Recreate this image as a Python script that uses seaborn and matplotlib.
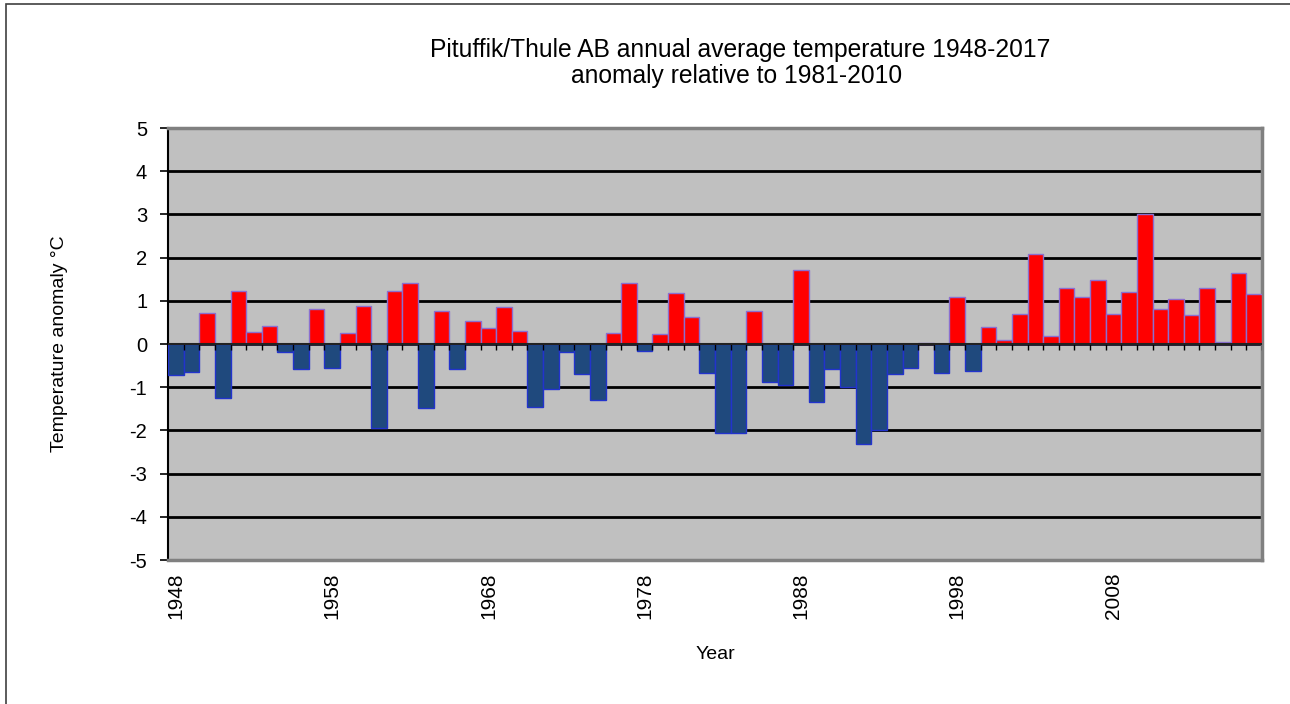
import matplotlib
matplotlib.use("Agg")
import matplotlib.pyplot as plt
import seaborn as sns
import pandas as pd
import numpy as np
from matplotlib.patches import Rectangle

years = list(range(1948, 2018))
anomaly = [
    -0.71, -0.64, 0.72, -1.25, 1.22, 0.28, 0.41, -0.19, -0.59, 0.81,
    -0.55, 0.25, 0.88, -1.95, 1.23, 1.42, -1.47, 0.76, -0.59, 0.53,
    0.36, 0.85, 0.30, -1.45, -1.05, -0.19, -0.69, -1.30, 0.26, 1.42,
    -0.17, 0.23, 1.18, 0.63, -0.68, -2.05, -2.05, 0.76, -0.89, -0.94,
    1.71, -1.34, -0.59, -0.99, -2.31, -1.98, -0.70, -0.55, 0.03, -0.67,
    1.09, -0.62, 0.40, 0.10, 0.70, 2.09, 0.19, 1.29, 1.09, 1.49,
    0.70, 1.21, 3.00, 0.80, 1.05, 0.67, 1.29, 0.05, 1.65, 1.16,
]
label_years = [1948, 1958, 1968, 1978, 1988, 1998, 2008]
y_ticks = [-5, -4, -3, -2, -1, 0, 1, 2, 3, 4, 5]
title_lines = ["Pituffik/Thule AB annual average temperature 1948-2017",
               "anomaly relative to 1981-2010"]

df = pd.DataFrame({"year": [str(y) for y in years], "anomaly": anomaly})
df["sign"] = np.where(df["anomaly"] >= 0, "pos", "neg")

sns.set_theme(style="white")
plt.rcParams["font.family"] = ["Liberation Sans", "DejaVu Sans"]
plt.rcParams["text.color"] = "black"
plt.rcParams["axes.labelcolor"] = "black"
plt.rcParams["xtick.color"] = "black"
plt.rcParams["ytick.color"] = "black"

W, H = 1290, 704
fig = plt.figure(figsize=(W / 100, H / 100), dpi=100)
ax = fig.add_axes([168 / W, 1 - 560 / H, (1262 - 168) / W, (560 - 128) / H])
ax.set_facecolor("#C0C0C0")

# outer chart frame
fig.patches.append(Rectangle((6 / W, -0.05), 1.2, 1 - 4 / H + 0.05, transform=fig.transFigure,
                             fill=False, edgecolor="#404040", linewidth=1.2, zorder=0))

for yv in y_ticks[1:-1]:
    ax.axhline(yv, color="black", linewidth=2.0, zorder=1)

sns.barplot(data=df, x="year", y="anomaly", hue="sign",
            palette={"pos": "#FF0000", "neg": "#1F497D"}, saturation=1,
            dodge=False, width=1.0, legend=False, ax=ax, zorder=3)
for p in ax.patches:
    fc = p.get_facecolor()
    if fc[0] > 0.9:
        p.set_edgecolor("#8A6FD0")
    else:
        p.set_edgecolor("#2233CC")
    p.set_linewidth(1.0)

n = len(years)
ax.set_xlim(-0.5, n - 0.5)
ax.set_ylim(-5, 5)

# small category tick marks along the zero axis
ax.vlines(np.arange(n) + 0.5, 0, -0.14, colors="black", linewidth=1.0, zorder=4)
ax.axhline(0, color="#222222", linewidth=1.5, zorder=4)

ax.set_yticks(y_ticks)
ax.set_yticklabels([str(v) for v in y_ticks], fontsize=14.5)
idx = [years.index(y) for y in label_years]
ax.set_xticks(idx)
ax.set_xticklabels([str(y) for y in label_years], rotation=90, fontsize=15)
ax.tick_params(axis="x", length=0, pad=9)
ax.tick_params(axis="y", length=6, width=1.2, color="black", pad=9, left=True)

for side in ["top", "right", "bottom"]:
    ax.spines[side].set_color("#808080")
    ax.spines[side].set_linewidth(2.5)
ax.spines["left"].set_color("black")
ax.spines["left"].set_linewidth(1.5)

ax.set_xlabel("Year", fontsize=14, labelpad=19)
ax.set_ylabel("Temperature anomaly °C", fontsize=14, labelpad=44)

fig.text(740 / W, 1 - 50 / H, title_lines[0], ha="center", va="center", fontsize=17.7)
fig.text(737 / W, 1 - 76 / H, title_lines[1], ha="center", va="center", fontsize=17.7)

fig.savefig("out.png", dpi=100, facecolor="white")
